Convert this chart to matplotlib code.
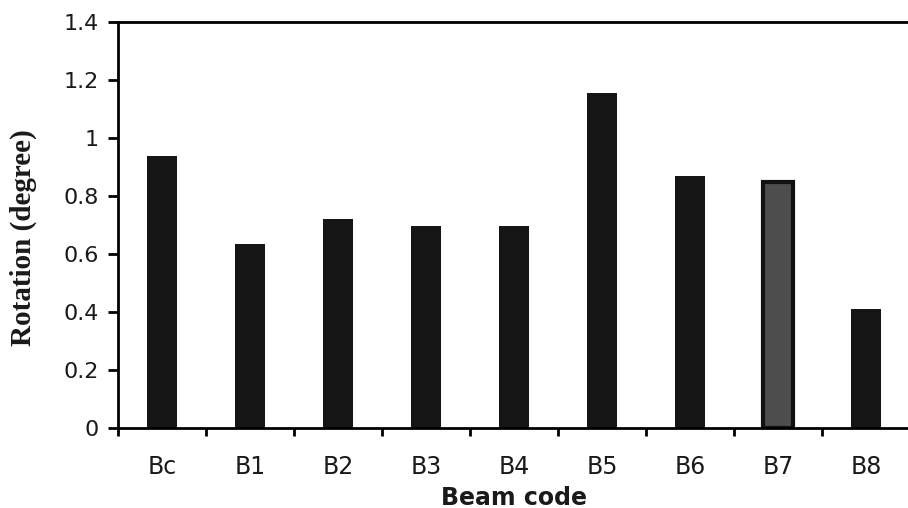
import matplotlib
matplotlib.use("Agg")
import matplotlib.pyplot as plt
import numpy as np

categories = ["Bc", "B1", "B2", "B3", "B4", "B5", "B6", "B7", "B8"]
rotation = [0.937, 0.635, 0.722, 0.698, 0.698, 1.156, 0.870, 0.847, 0.410]
bar_colors = ["#151515"] * 7 + ["#4d4d4d", "#151515"]
y_ticks = [0, 0.2, 0.4, 0.6, 0.8, 1.0, 1.2, 1.4]
y_tick_labels = ["0", "0.2", "0.4", "0.6", "0.8", "1", "1.2", "1.4"]

fig = plt.figure(figsize=(9.08, 5.08), dpi=100)
ax = fig.add_axes([0.130, 0.157, 0.872, 0.800])

x = np.arange(len(categories))
bars = ax.bar(x, rotation, width=0.34, color=bar_colors, linewidth=0)
bars[7].set_edgecolor("#111111")
bars[7].set_linewidth(3)

ax.set_xlim(-0.5, len(categories) - 0.5)
ax.set_ylim(0, 1.4)
ax.set_yticks(y_ticks)
ax.set_yticklabels(y_tick_labels, fontsize=16, family="DejaVu Sans", color="#1a1a1a")

ax.set_xticks(x)
ax.set_xticklabels(categories, fontsize=17, family="DejaVu Sans", color="#1a1a1a")
ax.tick_params(axis="x", which="major", length=0, pad=19)
ax.set_xticks(np.arange(len(categories) + 1) - 0.5, minor=True)
ax.tick_params(axis="x", which="minor", length=6, width=2, direction="out")
ax.tick_params(axis="y", length=7, width=2, direction="out", pad=7)

for s in ["left", "bottom", "top"]:
    ax.spines[s].set_linewidth(2)
ax.spines["right"].set_visible(False)

ax.set_xlabel("Beam code", fontsize=17, fontweight="bold", family="DejaVu Sans",
              labelpad=5, color="#1a1a1a")
ax.set_ylabel("Rotation (degree)", fontsize=21, fontweight="bold", family="Liberation Serif",
              color="#1a1a1a")
ax.yaxis.set_label_coords(-0.102, 0.47)

fig.savefig("out.png", dpi=100)
